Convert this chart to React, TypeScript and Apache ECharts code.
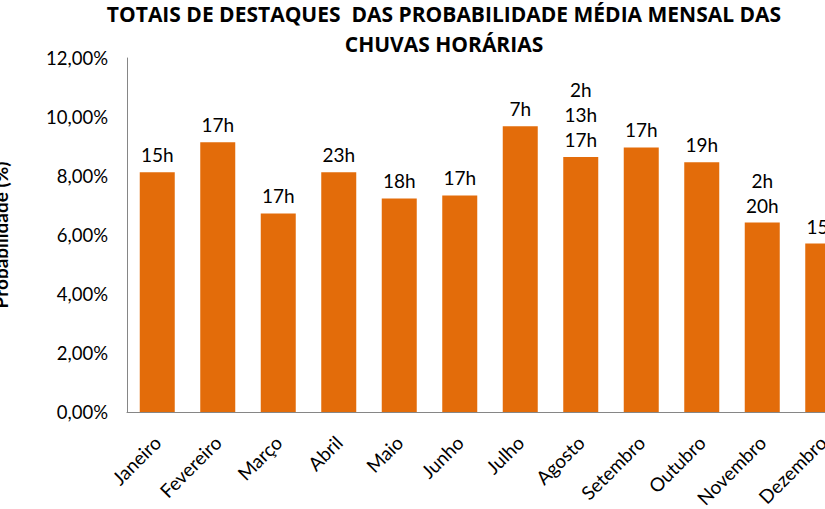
import React, { useEffect, useRef } from "react";
import * as echarts from "echarts";

const months = ["Janeiro", "Fevereiro", "Março", "Abril", "Maio", "Junho", "Julho", "Agosto", "Setembro", "Outubro", "Novembro", "Dezembro"];
const probabilities = [8.13, 9.14, 6.73, 8.13, 7.24, 7.34, 9.69, 8.64, 8.97, 8.47, 6.42, 5.71];
const highlightHours = ["15h", "17h", "17h", "23h", "18h", "17h", "7h", "2h\n13h\n17h", "17h", "19h", "2h\n20h", "15h"];
const titleText = "TOTAIS DE DESTAQUES  DAS PROBABILIDADE MÉDIA MENSAL DAS\nCHUVAS HORÁRIAS";
const yAxisTitle = "Probabilidade (%)";

const FONT = "Lato, 'Open Sans', sans-serif";
const TITLE_FONT = "'Open Sans', Lato, sans-serif";

export default function App() {
  const ref = useRef<HTMLDivElement>(null);
  useEffect(() => {
    if (!ref.current) return;
    const chart = echarts.init(ref.current, undefined, { renderer: "svg" });
    chart.setOption({
      animation: false,
      backgroundColor: "#fff",
      textStyle: { fontFamily: FONT },
      title: {
        text: titleText,
        left: 444,
        top: -1,
        padding: 0,
        textAlign: "center",
        textStyle: { fontFamily: TITLE_FONT, fontSize: 21, fontWeight: "bold", color: "#000", lineHeight: 30 },
      },
      grid: { left: 127, top: 58, height: 354, width: 726, outerBoundsMode: "none", containLabel: false },
      xAxis: {
        type: "category",
        data: months,
        axisLine: { lineStyle: { color: "#868686", width: 1 } },
        axisTick: { show: false },
        axisLabel: { rotate: 45, fontSize: 19, color: "#000", margin: 27, fontFamily: FONT, interval: 0 },
      },
      yAxis: {
        type: "value",
        min: 0,
        max: 12,
        interval: 2,
        name: yAxisTitle,
        nameLocation: "middle",
        nameRotate: 90,
        nameGap: 117,
        nameTextStyle: { fontSize: 19, fontWeight: "bold", color: "#000", fontFamily: FONT },
        axisLine: { show: true, lineStyle: { color: "#868686", width: 1 } },
        axisTick: { show: false },
        splitLine: { show: false },
        axisLabel: {
          fontSize: 18.5,
          color: "#000",
          margin: 19,
          fontFamily: FONT,
          formatter: (v: number) => v.toFixed(2).replace(".", ",") + "%",
        },
      },
      series: [
        {
          type: "bar",
          data: probabilities,
          barWidth: 35,
          itemStyle: { color: "#E36C0A" },
          label: {
            show: true,
            position: "top",
            distance: 5,
            fontSize: 19,
            color: "#000",
            lineHeight: 25,
            fontFamily: FONT,
            formatter: (p: any) => highlightHours[p.dataIndex],
          },
        },
      ],
    });
    return () => chart.dispose();
  }, []);
  return <div ref={ref} style={{ position: "fixed", left: 0, top: 0, width: 825, height: 509 }} />;
}
